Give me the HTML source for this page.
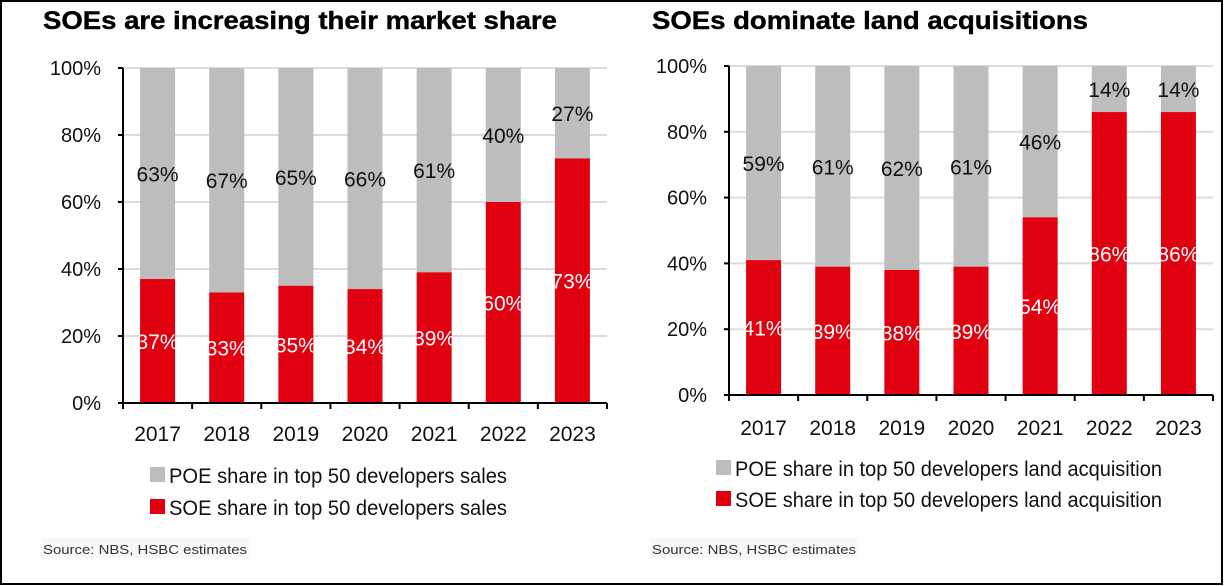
<!DOCTYPE html>
<html><head><meta charset="utf-8"><style>
html,body{margin:0;padding:0;background:#fff}
svg{display:block;font-family:"Liberation Sans",Arial,sans-serif}
</style></head><body>
<svg id="root" width="1224" height="586" viewBox="0 0 1224 586" xmlns="http://www.w3.org/2000/svg">
<rect x="1" y="1" width="1221" height="583" fill="#fff" stroke="#000" stroke-width="2"/>
</svg>
<script>
const years = ["2017","2018","2019","2020","2021","2022","2023"];
const salesSOE = [37,33,35,34,39,60,73];
const salesPOE = [63,67,65,66,61,40,27];
const landSOE = [41,39,38,39,54,86,86];
const landPOE = [59,61,62,61,46,14,14];
const yTicks = [0,20,40,60,80,100];

const NS="http://www.w3.org/2000/svg";
const root=document.getElementById('root');
function el(tag,attrs,parent){const e=document.createElementNS(NS,tag);for(const k in attrs)e.setAttribute(k,attrs[k]);(parent||root).appendChild(e);return e;}

function drawChart(cfg){
  const g=el('g',{});
  
  
  const x0=cfg.x0,x1=cfg.x1,yTop=cfg.yTop,yBot=cfg.yBot;
  const cw=(x1-x0)/years.length;
  const y=v=>yBot-(yBot-yTop)*v/100;
  const t=el('text',{x:cfg.titleX,y:29,'font-size':25,'font-weight':'bold',fill:'#000',stroke:'#000','stroke-width':0.4,textLength:cfg.titleLen,lengthAdjust:'spacingAndGlyphs'},g);
  t.textContent=cfg.title;
  
  
  yTicks.forEach(v=>{
    if(v>0){const gl=el('line',{x1:x0,x2:x1,y1:y(v),y2:y(v),stroke:'#dcdcdc','stroke-width':2},g);
      
      }
    const tk=el('line',{x1:x0-5,x2:x0,y1:y(v),y2:y(v),stroke:'#000','stroke-width':2},g);
    
    
    const lb=el('text',{x:x0-22,y:y(v)+7,'font-size':20,'text-anchor':'end',fill:'#111'},g);
    lb.textContent=v+'%';
    
    
  });
  years.forEach((yr,i)=>{
    const cx=x0+cw*(i+0.5),bw=35;
    const s=cfg.soe[i],p=cfg.poe[i];
    const rp=el('rect',{x:cx-bw/2,y:y(100),width:bw,height:y(s)-y(100),fill:'#bdbdbd'},g);
    
    
    const rs=el('rect',{x:cx-bw/2,y:y(s),width:bw,height:yBot-y(s),fill:'#e0000f'},g);
    
    
    const lp=el('text',{x:cx,y:y(s+p/2)+8,'font-size':21,'text-anchor':'middle',fill:'#111'},g);
    lp.textContent=p+'%';
    
    
    const ls=el('text',{x:cx,y:y(s/2)+8,'font-size':21,'text-anchor':'middle',fill:'#fff'},g);
    ls.textContent=s+'%';
    
    
    const xl=el('text',{x:cx,y:cfg.yearY,'font-size':21,'text-anchor':'middle',fill:'#111'},g);
    xl.textContent=yr;
    
    
  });
  for(let i=0;i<=years.length;i++){
    const tx=el('line',{x1:x0+cw*i,x2:x0+cw*i,y1:yBot,y2:yBot+6,stroke:'#000','stroke-width':2},g);
    
    
  }
  const ya=el('line',{x1:x0,x2:x0,y1:yTop,y2:yBot,stroke:'#000','stroke-width':2},g);
  
  
  const xa=el('line',{x1:x0-5,x2:x1,y1:yBot,y2:yBot,stroke:'#000','stroke-width':2},g);
  
  
  [[cfg.leg1,'#bdbdbd',cfg.legY1,'legend-entry-poe'],[cfg.leg2,'#e0000f',cfg.legY2,'legend-entry-soe']].forEach(([txt,col,ly,nm])=>{
    const lg=el('g',{},g);
    
    
    el('rect',{x:cfg.legX,y:ly-8,width:15,height:15,fill:col},lg);
    const lt=el('text',{x:cfg.legX+19,y:ly+8,'font-size':21,fill:'#111',textLength:cfg.legLen,lengthAdjust:'spacingAndGlyphs'},lg);
    lt.textContent=txt;
  });
  el('rect',{x:cfg.titleX-2,y:538,width:208,height:20,fill:'#f8f8f8'},g);
  const src=el('text',{x:cfg.titleX,y:554,'font-size':13,fill:'#333',textLength:204,lengthAdjust:'spacingAndGlyphs'},g);
  src.textContent='Source: NBS, HSBC estimates';
  
  
}

drawChart({name:'sales-share-chart',title:'SOEs are increasing their market share',titleX:43,titleLen:514,
  x0:123,x1:607,yTop:68,yBot:403,yearY:441,soe:salesSOE,poe:salesPOE,
  leg1:'POE share in top 50 developers sales',leg2:'SOE share in top 50 developers sales',
  legX:150,legY1:475,legY2:507,legLen:338});
drawChart({name:'land-acquisition-chart',title:'SOEs dominate land acquisitions',titleX:652,titleLen:436,
  x0:729,x1:1213,yTop:66,yBot:395,yearY:435,soe:landSOE,poe:landPOE,
  leg1:'POE share in top 50 developers land acquisition',leg2:'SOE share in top 50 developers land acquisition',
  legX:716,legY1:468,legY2:499,legLen:427});
</script>
</body></html>
